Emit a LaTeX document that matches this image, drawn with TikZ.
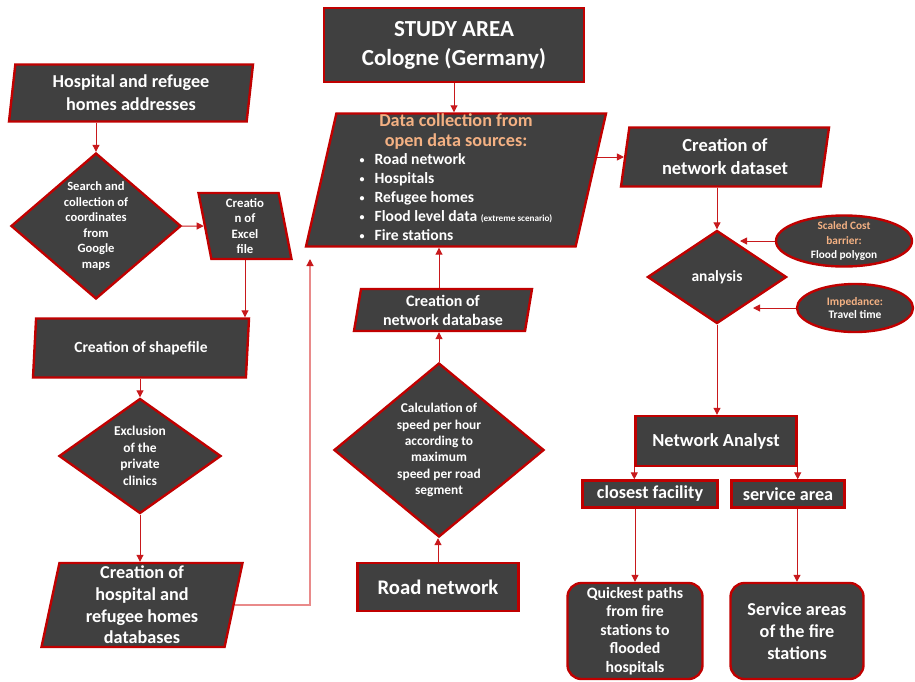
\documentclass[tikz,border=0pt]{standalone}
\usepackage{fontspec}
\setmainfont{Carlito}
\usetikzlibrary{arrows.meta,shapes.geometric,backgrounds}
\definecolor{boxgray}{HTML}{404040}
\definecolor{edgered}{HTML}{C00000}
\definecolor{linkred}{HTML}{C8191C}
\definecolor{paleline}{HTML}{E98A8A}
\definecolor{tan}{HTML}{F4B183}
\newcommand\fsz[2]{\fontsize{#1}{#2}\selectfont}
\newcommand\itembullet{\raisebox{1pt}{\fsz{10}{10}\textbullet}\hspace{10pt}}
\tikzset{
  base/.style={draw=edgered, fill=boxgray, line width=2.4pt, text=white,
    font=\bfseries, align=center, inner sep=0pt},
  box/.style={base, rectangle},
  roundbox/.style={base, rectangle, rounded corners=14pt},
  para/.style={base, trapezium, trapezium left angle=77, trapezium right angle=103,
    trapezium stretches body},
  backpara/.style={para, trapezium left angle=103, trapezium right angle=77},
  decision/.style={base, diamond},
  oval/.style={base, ellipse},
  intext/.style={text=white, font=\bfseries, align=center, inner sep=0pt},
  flow/.style={-{Triangle[length=7pt,width=7pt]}, draw=linkred, line width=1pt},
  paleflow/.style={-{Triangle[length=7pt,width=7pt,color=linkred]}, draw=paleline, line width=1.2pt}
}

\begin{document}
\begin{tikzpicture}[x=1pt,y=-1pt]
  \useasboundingbox (0,0) rectangle (915,681);

  % left column
  \node[para, trapezium left angle=80, trapezium right angle=100, minimum width=244pt, minimum height=57pt,
    font=\bfseries\fsz{18.2}{23}] (addr) at (131,93) {Hospital and refugee\\homes addresses};
  \node[decision, minimum width=170pt, minimum height=146pt,
    label={[intext, font=\bfseries\fsz{12.6}{15.6}]center:Search and\\collection of\\coordinates\\from\\Google\\maps}]
    (search) at (96,226) {};
  \node[backpara, minimum width=93pt, minimum height=66pt, font=\bfseries\fsz{12.8}{15.6}]
    (excel) at (245,226) {Creatio\\n of\\Excel\\file};
  \node[para, minimum width=216pt, minimum height=59pt, font=\bfseries\fsz{15.5}{18}]
    (shape) at (141,348) {Creation of shapefile};
  \node[decision, minimum width=162pt, minimum height=115pt,
    label={[intext, font=\bfseries\fsz{13.5}{16.6}]center:Exclusion\\of the\\private\\clinics}]
    (excl) at (140,456) {};
  \node[para, minimum width=201pt, minimum height=84pt, font=\bfseries\fsz{18.2}{21.6}]
    (hospdb) at (142,605) {Creation of\\hospital and\\refugee homes\\databases};

  % middle column
  \node[box, minimum width=260pt, minimum height=74pt, font=\bfseries\fsz{23}{29}]
    (study) at (454,45) {STUDY AREA\\Cologne (Germany)};
  \node[para, minimum width=300pt, minimum height=133pt, font=\bfseries\fsz{18.2}{20}] (data) at (456,180)
    {\textcolor{tan}{Data collection from}\\\textcolor{tan}{open data sources:}\\[1pt]
     {\fsz{15.6}{18.8}\begin{tabular}{@{}l@{}}
       \itembullet Road network\\
       \itembullet Hospitals\\
       \itembullet Refugee homes\\
       \itembullet Flood level data {\fsz{9.2}{9}(extreme scenario)}\\
       \itembullet Fire stations
     \end{tabular}}};
  \node[para, minimum width=178pt, minimum height=42pt, font=\bfseries\fsz{16}{19}]
    (netdb) at (443,310) {Creation of\\network database};
  \node[decision, minimum width=210pt, minimum height=174pt,
    label={[intext, font=\bfseries\fsz{13.4}{16.3}]center:Calculation of\\speed per hour\\according to\\maximum\\speed per road\\segment}]
    (calc) at (439,450) {};
  \node[box, minimum width=161pt, minimum height=48pt, font=\bfseries\fsz{20.7}{24}]
    (road) at (438,587) {Road network};

  % right column
  \node[para, minimum width=208pt, minimum height=59pt, font=\bfseries\fsz{18.5}{23}]
    (dataset) at (725,157) {Creation of\\network dataset};
  \node[decision, minimum width=139pt, minimum height=93pt,
    label={[intext, font=\bfseries\fsz{15.5}{16}]center:analysis}] (analysis) at (717,277) {};
  \node[oval, minimum width=136pt, minimum height=51pt,
    label={[intext, font=\bfseries\fsz{11.3}{14.3}]center:\textcolor{tan}{Scaled Cost}\\\textcolor{tan}{barrier:}\\Flood polygon}]
    (barrier) at (844,241) {};
  \node[oval, minimum width=116pt, minimum height=48pt,
    label={[intext, font=\bfseries\fsz{11.5}{13.5}]center:\textcolor{tan}{Impedance:}\\Travel time}]
    (imped) at (855,308) {};
  \node[box, minimum width=161pt, minimum height=50pt, font=\bfseries\fsz{18.4}{20}]
    (analyst) at (716,441) {Network Analyst};
  \node[box, minimum width=135pt, minimum height=27pt, font=\bfseries\fsz{18.2}{19}]
    (closest) at (650,494) {closest facility};
  \node[box, minimum width=113pt, minimum height=27pt, font=\bfseries\fsz{18.2}{19}]
    (service) at (788,494) {service area};
  \node[roundbox, minimum width=135pt, minimum height=96pt, font=\bfseries\fsz{15.8}{18.5}]
    (quick) at (635,631) {Quickest paths\\from fire\\stations to\\flooded\\hospitals};
  \node[roundbox, minimum width=133pt, minimum height=96pt, font=\bfseries\fsz{18.2}{21.7}]
    (areas) at (797,631) {Service areas\\of the fire\\stations};

  \coordinate (datain) at (310,259);
  \coordinate (barin) at (740,241);
  \coordinate (impin) at (753,308);

  \begin{scope}[on background layer]
    \fill[white] (0,0) rectangle (915,681);
    \draw[flow] (search.north |- addr.south) -- (search.north);
    \draw[flow] (search.east) -- (excel.west);
    \draw[flow] (excel.south) -- (excel.south |- shape.north);
    \draw[flow] (excl.north |- shape.south) -- (excl.north);
    \draw[flow] (excl.south) -- (excl.south |- hospdb.north);
    \draw[paleflow] (hospdb.east) -| (datain);
    \draw[flow] (study.south) -- (study.south |- data.north);
    \draw[flow] (road.north) -- (road.north |- calc.south);
    \draw[flow] (calc.north) -- (calc.north |- netdb.south);
    \draw[flow] (calc.north |- netdb.north) -- (calc.north |- data.south);
    \draw[flow] (data.east |- dataset.west) -- (dataset.west);
    \draw[flow] (analysis.north |- dataset.south) -- (analysis.north);
    \draw[flow] (barrier.west) -- (barin);
    \draw[flow] (imped.west) -- (impin);
    \draw[flow] (analysis.south) -- (analysis.south |- analyst.north);
    \draw[flow] (analyst.south west) -- (analyst.south west |- closest.north);
    \draw[flow] (analyst.south east) -- (analyst.south east |- service.north);
    \draw[flow] (closest.south -| quick.north) -- (quick.north);
    \draw[flow] (service.south -| areas.north) -- (areas.north);
  \end{scope}
\end{tikzpicture}
\end{document}
